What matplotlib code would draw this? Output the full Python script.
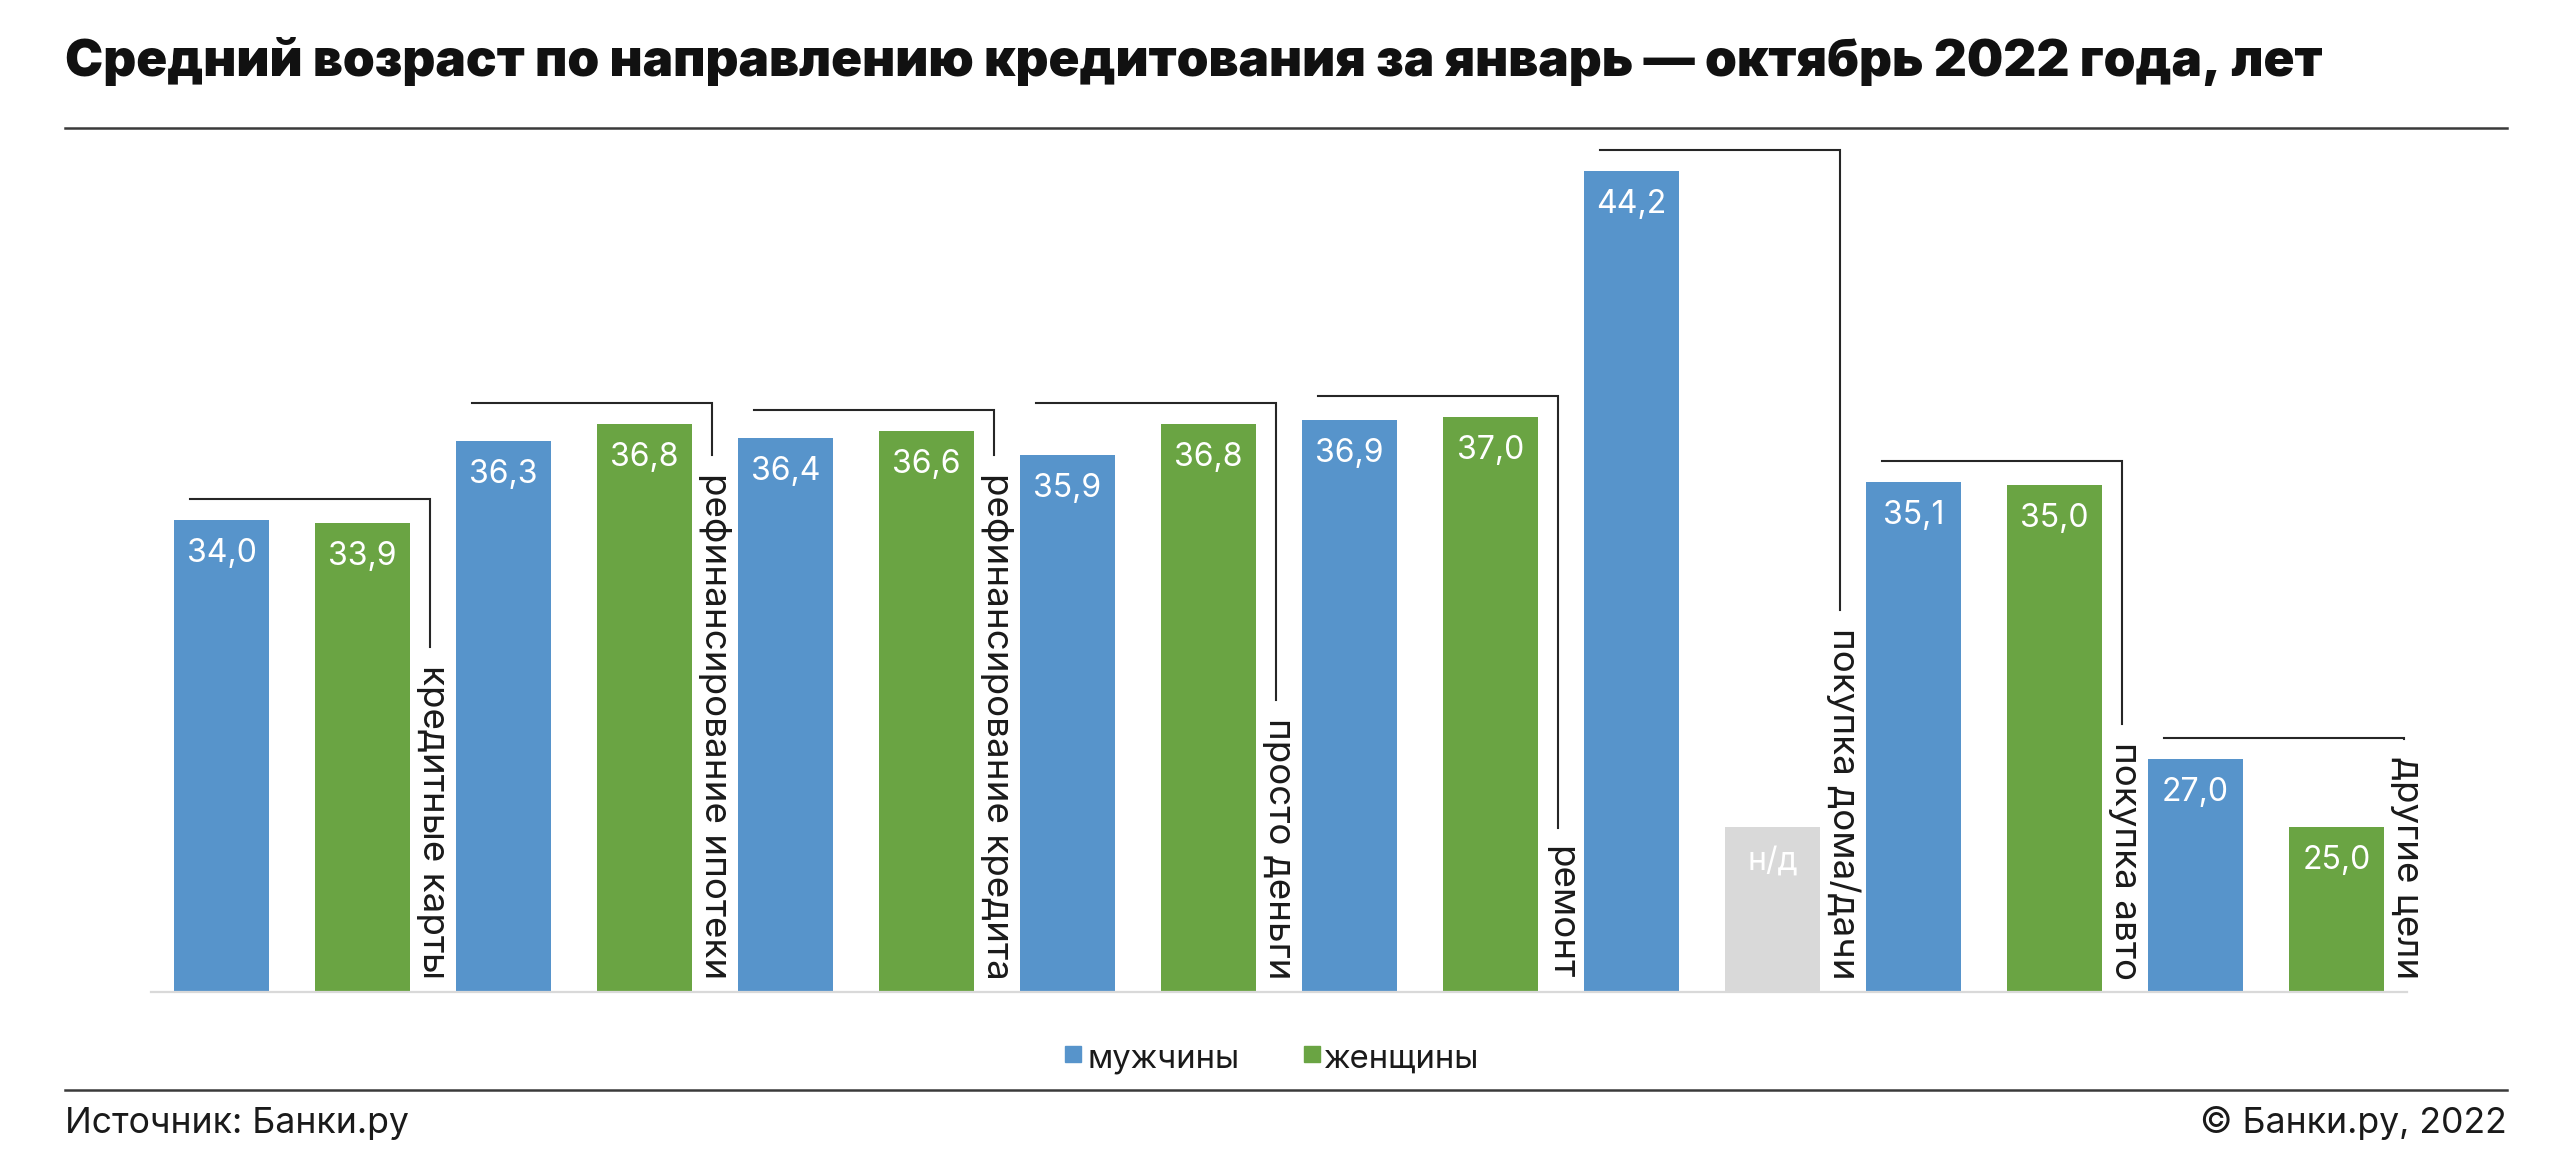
import matplotlib
matplotlib.use("Agg")
import matplotlib.pyplot as plt
from matplotlib.patches import Rectangle
from matplotlib.lines import Line2D

# ---------------- data ----------------
categories = ["кредитные карты", "рефинансирование ипотеки", "рефинансирование кредита",
              "просто деньги", "ремонт", "покупка дома/дачи", "покупка авто", "другие цели"]
men = [34.0, 36.3, 36.4, 35.9, 36.9, 44.2, 35.1, 27.0]
women = [33.9, 36.8, 36.6, 36.8, 37.0, None, 35.0, 25.0]
series_names = ["мужчины", "женщины"]
na_label = "н/д"
na_height = 25.0
title = "Средний возраст по направлению кредитования за январь — октябрь 2022 года, лет"
source_text = "Источник: Банки.ру"
copyright_text = "© Банки.ру, 2022"

# ---------------- style ----------------
W, H, DPI = 2569, 1171, 100
FONT = ["Inter", "DejaVu Sans"]
plt.rcParams["font.family"] = FONT
BLUE = "#5794CB"
GREEN = "#6AA443"
GRAY = "#D9D9D9"
TEXT = "#1A1A1A"
LINE = "#262626"

fig = plt.figure(figsize=(W / DPI, H / DPI), dpi=DPI)
fig.patch.set_facecolor("white")


def fx(px):
    return px / W


def fy(py):
    return 1 - py / H


renderer = fig.canvas.get_renderer()


def fit(t, target, dim="w"):
    bb = t.get_window_extent(renderer)
    cur = bb.width if dim == "w" else bb.height
    t.set_fontsize(t.get_fontsize() * target / cur)
    return t.get_fontsize()


# ---------------- axes ----------------
ax_left, ax_right, ax_bottom, ax_top = 151, 2407, 991.5, 140
ax = fig.add_axes([fx(ax_left), fy(ax_bottom), (ax_right - ax_left) / W, (ax_bottom - ax_top) / H])
YMIN, YMAX = 20.2, 45.1
n = len(categories)
ax.set_xlim(-0.5, 2 * n - 0.5)
ax.set_ylim(YMIN, YMAX)
for s in ["top", "left", "right"]:
    ax.spines[s].set_visible(False)
ax.spines["bottom"].set_color(GRAY)
ax.spines["bottom"].set_linewidth(1.6)
ax.set_xticks([])
ax.set_yticks([])
ax.patch.set_alpha(0)

BW = 0.67
men_x = [2 * i for i in range(n)]
women_x = [2 * i + 1 for i in range(n)]
ax.bar(men_x, [v - YMIN for v in men], bottom=YMIN, width=BW, color=BLUE, zorder=2)
w_vals = [v if v is not None else na_height for v in women]
w_cols = [GREEN if v is not None else GRAY for v in women]
ax.bar(women_x, [v - YMIN for v in w_vals], bottom=YMIN, width=BW, color=w_cols, zorder=2)


def fmt(v):
    return f"{v:.1f}".replace(".", ",")


# value labels
probe = ax.text(0, 0, "34,0", fontsize=20)
VS = fit(probe, 70, "w")
probe.remove()
for x, v in zip(men_x, men):
    ax.annotate(fmt(v), xy=(x, v), xytext=(0, -18), textcoords="offset pixels",
                ha="center", va="top", color="white", fontsize=VS, zorder=3)
for x, v in zip(women_x, women):
    lab = fmt(v) if v is not None else na_label
    yv = v if v is not None else na_height
    ax.annotate(lab, xy=(x, yv), xytext=(0, -18), textcoords="offset pixels",
                ha="center", va="top", color="white", fontsize=VS, zorder=3)

# category labels + brackets
probe = ax.text(0, 30, "рефинансирование ипотеки", rotation=-90, fontsize=20)
LS = fit(probe, 504, "h")
probe.remove()
inv = ax.transData.inverted()
for i, cat in enumerate(categories):
    xl = 2 * i + 1.5
    t = ax.annotate(cat, xy=(xl, YMIN), xytext=(0, 12), textcoords="offset pixels",
                    rotation=-90, ha="center", va="bottom", fontsize=LS, color=TEXT,
                    annotation_clip=False)
    bb = t.get_window_extent(renderer)
    ytop = inv.transform((0, bb.y1 + 18))[1]
    pair = [men[i]] + ([women[i]] if women[i] is not None else [na_height])
    yb = max(pair) + 0.6
    xr = 2 * i + 1.48
    ax.add_line(Line2D([2 * i - 0.22, xr, xr], [yb, yb, ytop], color=LINE,
                       lw=1.5, clip_on=False, solid_joinstyle="miter", zorder=4))

# ---------------- title / separators ----------------
tt = fig.text(fx(65), fy(76), title, ha="left", va="baseline", fontsize=30,
              fontweight="black", color="#111111")
fit(tt, 2261, "w")
for yline in (128, 1090):
    fig.add_artist(Line2D([fx(65), fx(2507)], [fy(yline), fy(yline)], color="#3A3A3A",
                          lw=1.8, transform=fig.transFigure))

# ---------------- legend ----------------
lt1 = fig.text(fx(1088), fy(1068), series_names[0], ha="left", va="baseline",
               fontsize=20, color=TEXT)
GS = fit(lt1, 152, "w")
lt2 = fig.text(fx(1324), fy(1068), series_names[1], ha="left", va="baseline",
               fontsize=GS, color=TEXT)
for xsq, col in ((1065, BLUE), (1304, GREEN)):
    fig.add_artist(Rectangle((fx(xsq), fy(1062)), 16 / W, 16 / H, color=col,
                             transform=fig.transFigure))

# ---------------- footer ----------------
ft = fig.text(fx(65), fy(1133), source_text, ha="left", va="baseline", fontsize=20,
              color=TEXT)
FS = fit(ft, 344, "w")
fig.text(fx(2507), fy(1133), copyright_text, ha="right", va="baseline", fontsize=FS,
         color=TEXT)

fig.savefig("out.png", dpi=DPI, facecolor="white")
